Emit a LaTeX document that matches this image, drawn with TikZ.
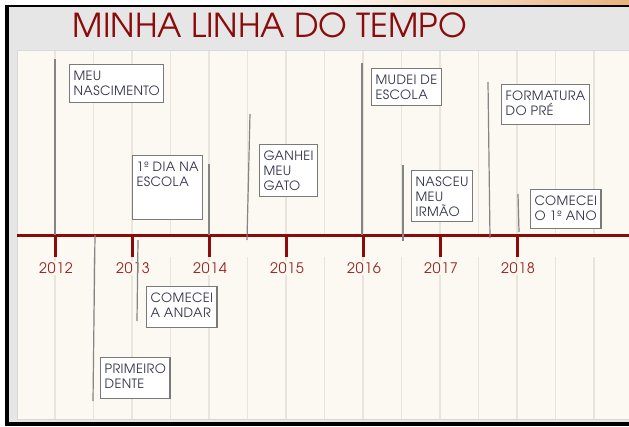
\documentclass[tikz,border=0pt]{standalone}
\usepackage{fontspec}
\setmainfont{texgyreadventor-regular.otf}
\definecolor{dred}{HTML}{8B0A0A}
\definecolor{yearc}{HTML}{9A2424}
\definecolor{framec}{HTML}{E6E6E6}
\definecolor{cream}{HTML}{FCF9F2}
\definecolor{gridc}{HTML}{E9E5DD}
\definecolor{stemc}{HTML}{858585}
\definecolor{boxc}{HTML}{7A7A7A}
\definecolor{txtc}{HTML}{34344A}
\newcommand\evl[1]{\hbox{#1}}
\newcommand\bt[3]{\parbox[c][\dimexpr#2pt-12pt\relax][t]{\dimexpr#1pt-8pt\relax}{#3}}
\tikzset{
  evbox/.style={draw=boxc, line width=1.2pt, fill=white, anchor=north west,
    inner xsep=4pt, inner ysep=6pt, text=txtc, font=\fontsize{12.8}{15}\selectfont\addfontfeatures{LetterSpace=3}},
  stem/.style={draw=stemc, line width=1.2pt},
  axisline/.style={draw=dred, line width=3pt},
  tickline/.style={draw=dred, line width=3pt},
  gridline/.style={draw=gridc, line width=1.4pt},
  yearlbl/.style={text=yearc, font=\fontsize{14.5}{14.5}\selectfont\addfontfeatures{LetterSpace=4}, fill=cream, inner sep=1pt},
  titlelbl/.style={text=dred, font=\fontsize{33}{33}\selectfont, inner sep=0pt}
}
\begin{document}
\begin{tikzpicture}[x=1pt,y=-1pt]
\useasboundingbox (0,0) rectangle (629,426);
% frame
\fill[white] (0,0) rectangle (629,426);
\shade[left color=white, right color=orange!45!brown!60] (300,0) rectangle (629,4);
\fill[black] (5,4.5) rectangle (629,426);
\fill[framec] (8.5,7) rectangle (629,422);
\filldraw[fill=cream, draw=gray!30, line width=0.6pt] (17,50) rectangle (640,419.5);
% grid
\foreach \i in {0,...,14} {
  \draw[gridline] (55+38.5*\i,50.5) -- (55+38.5*\i,235);
  \draw[gridline] (55+38.5*\i,257) -- (55+38.5*\i,419);
}
% title
\node[titlelbl] (title) at (270,25) {MINHA LINHA DO TEMPO};
% axis
\coordinate (axl) at (17,235);
\coordinate (axr) at (629,235);
\draw[axisline] (axl) -- (axr);
\foreach \yr [count=\k from 0] in {2012,2013,2014,2015,2016,2017,2018} {
  \draw[tickline] (55+77*\k,235) -- (55+77*\k,257);
  \node[yearlbl] (y\yr) at (56+77*\k,268) {\yr};
}
% stems
\coordinate (s1a) at (55,59);   \coordinate (s1b) at (55,235);
\coordinate (s2a) at (95,235);  \coordinate (s2b) at (93,401);
\coordinate (s3a) at (209,164); \coordinate (s3b) at (209,235);
\coordinate (s4a) at (138,240); \coordinate (s4b) at (137,321);
\coordinate (s5a) at (250,114); \coordinate (s5b) at (247,240);
\coordinate (s6a) at (362,63);  \coordinate (s6b) at (362,235);
\coordinate (s7a) at (403,165); \coordinate (s7b) at (403,241);
\coordinate (s8a) at (488,82);  \coordinate (s8b) at (490,238);
\coordinate (s9a) at (518,194); \coordinate (s9b) at (519,232);
\foreach \s in {1,...,9} \draw[stem] (s\s a) -- (s\s b);
% boxes
\node[evbox] (b1) at (69,64)   {\bt{101}{38}{\evl{MEU}\evl{NASCIMENTO}}};
\node[evbox] (b2) at (100,357) {\bt{69}{41}{\evl{PRIMEIRO}\evl{DENTE}}};
\node[evbox] (b3) at (132,155) {\bt{67}{64}{\evl{1º DIA NA}\evl{ESCOLA}}};
\node[evbox] (b4) at (146,286) {\bt{75}{41}{\evl{COMECEI}\evl{A ANDAR}}};
\node[evbox] (b5) at (259,144) {\bt{69}{52}{\evl{GANHEI}\evl{MEU}\evl{GATO}}};
\node[evbox] (b6) at (371,68)  {\bt{69}{37}{\evl{MUDEI DE}\evl{ESCOLA}}};
\node[evbox] (b7) at (411,170) {\bt{68}{51}{\evl{NASCEU}\evl{MEU}\evl{IRMÃO}}};
\node[evbox] (b8) at (501,84)  {\bt{94}{40}{\evl{FORMATURA}\evl{DO PRÉ}}};
\node[evbox] (b9) at (530,189) {\bt{82}{39}{\evl{COMECEI}\evl{O 1º ANO}}};
\end{tikzpicture}
\end{document}
